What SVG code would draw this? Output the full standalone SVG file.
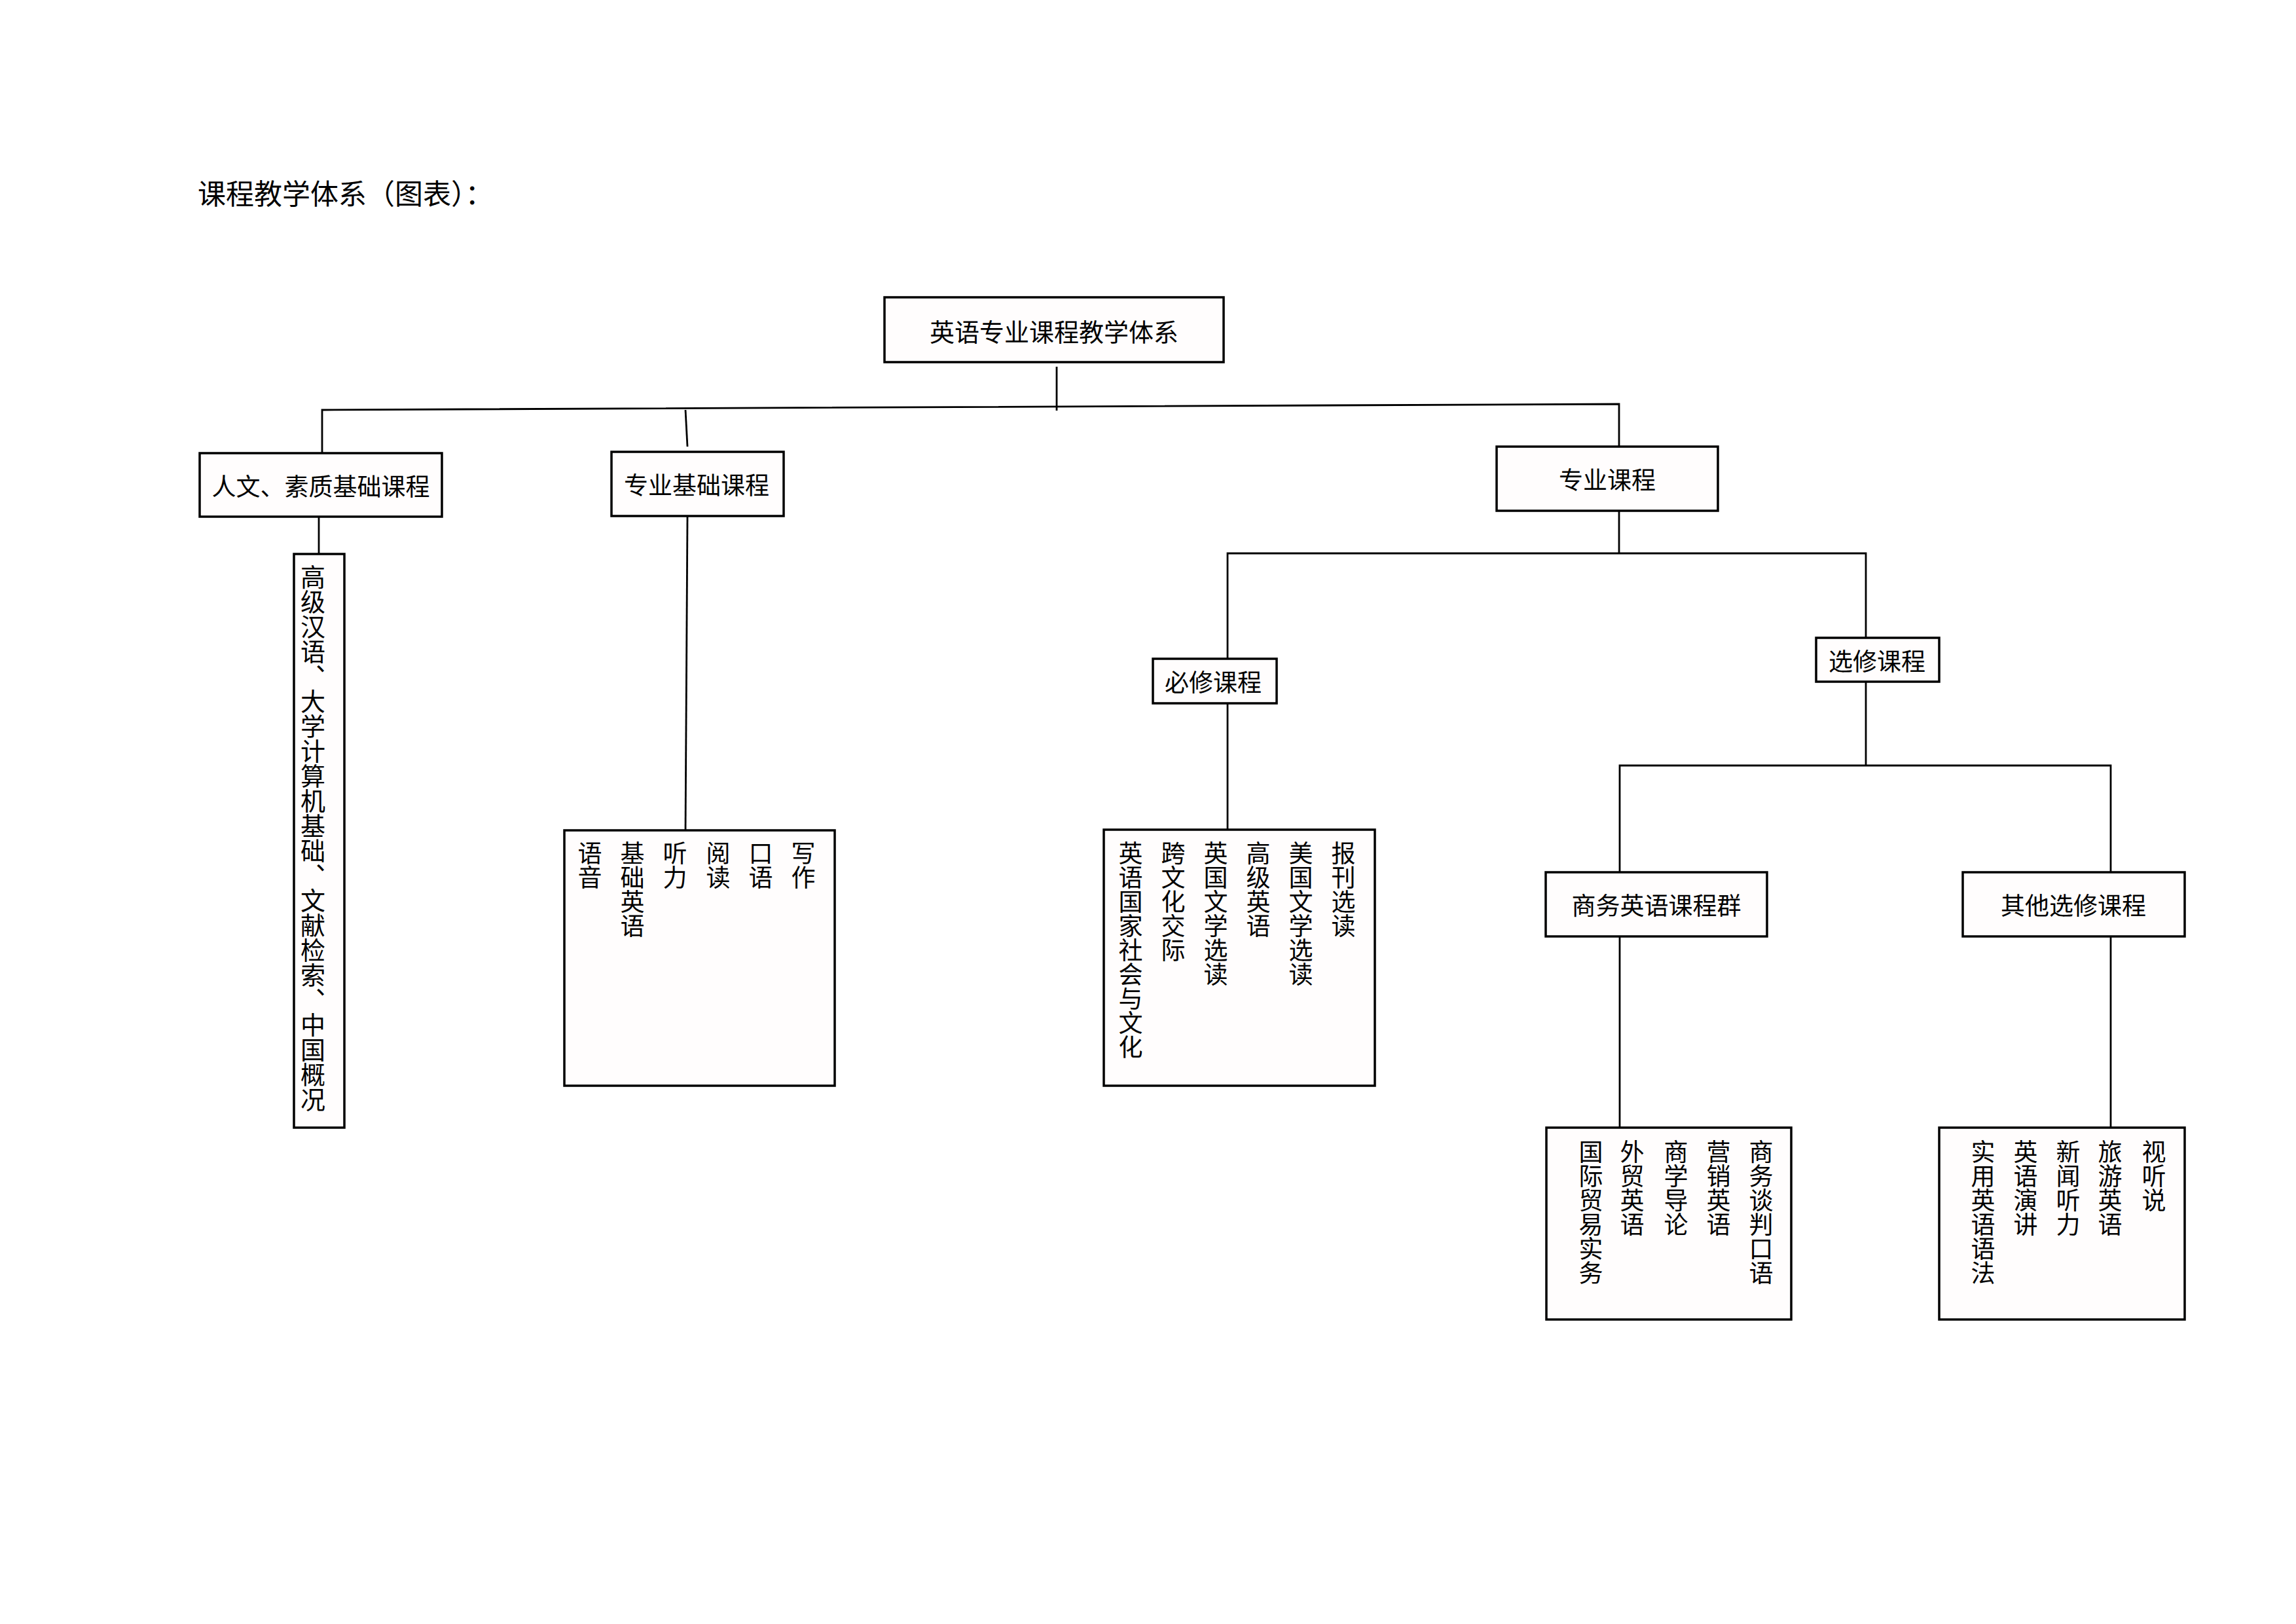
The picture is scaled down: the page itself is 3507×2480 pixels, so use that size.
<svg xmlns="http://www.w3.org/2000/svg" width="3507" height="2480" viewBox="0 0 3507 2480">
<style>
text{font-family:"Noto Sans CJK SC","Noto Sans CJK JP",sans-serif;fill:#000}
.lbl{font-size:37px;text-anchor:middle;dominant-baseline:central}
.col{font-size:37px;writing-mode:vertical-rl;text-anchor:start}
.box{fill:#fffdfd;stroke:#000;stroke-width:3.5}
.ln{fill:none;stroke:#000;stroke-width:2.8}
</style>
<rect width="3507" height="2480" fill="#fff"/>
<text x="302" y="293" style="font-size:43px;dominant-baseline:central">课程教学体系（图表）：</text>
<g id="connectors">
<path class="ln" d="M1614 560V627"/>
<path class="ln" d="M492 692V626L2473 617V682"/>
<path class="ln" d="M1047 626L1050 682"/>
<path class="ln" d="M487 789V846"/>
<path class="ln" d="M1050 788L1047 1268"/>
<path class="ln" d="M2473 780V845"/>
<path class="ln" d="M1875 1006V845H2850V974"/>
<path class="ln" d="M1875 1074V1267"/>
<path class="ln" d="M2850 1041V1169"/>
<path class="ln" d="M2474 1332V1169H3224V1332"/>
<path class="ln" d="M2474 1430V1722"/>
<path class="ln" d="M3224 1430V1722"/>
</g>
<g id="root">
<rect class="box" x="1351" y="454" width="518" height="99"/>
<text class="lbl" x="1610" y="504" style="font-size:38px">英语专业课程教学体系</text>
</g>
<g id="renwen">
<rect class="box" x="305" y="692" width="370" height="97"/>
<text class="lbl" x="490" y="741">人文、素质基础课程</text>
</g>
<g id="zhuanyejichu">
<rect class="box" x="934" y="690" width="263" height="98"/>
<text class="lbl" x="1064" y="739">专业基础课程</text>
</g>
<g id="zhuanye">
<rect class="box" x="2286" y="682" width="338" height="98"/>
<text class="lbl" x="2455" y="731">专业课程</text>
</g>
<g id="bixiu">
<rect class="box" x="1761" y="1006" width="189" height="68"/>
<text class="lbl" x="1853" y="1040">必修课程</text>
</g>
<g id="xuanxiu">
<rect class="box" x="2774" y="974" width="188" height="67"/>
<text class="lbl" x="2867" y="1008">选修课程</text>
</g>
<g id="shangwu">
<rect class="box" x="2361" y="1332" width="338" height="98"/>
<text class="lbl" x="2530" y="1381">商务英语课程群</text>
</g>
<g id="qita">
<rect class="box" x="2998" y="1332" width="339" height="98"/>
<text class="lbl" x="3167" y="1381">其他选修课程</text>
</g>
<g id="renwen-list">
<rect class="box" x="449" y="846" width="77" height="876"/>
<text class="col" x="478" y="862" style="font-size:38px">高级汉语、大学计算机基础、文献检索、中国概况</text>
</g>
<g id="jichu-list">
<rect class="box" x="862" y="1268" width="413" height="390"/>
<text class="col" x="901" y="1284">语音</text>
<text class="col" x="966" y="1284">基础英语</text>
<text class="col" x="1031" y="1284">听力</text>
<text class="col" x="1097" y="1284">阅读</text>
<text class="col" x="1162" y="1284">口语</text>
<text class="col" x="1227" y="1284">写作</text>
</g>
<g id="bixiu-list">
<rect class="box" x="1686" y="1267" width="414" height="391"/>
<text class="col" x="1727" y="1284">英语国家社会与文化</text>
<text class="col" x="1792" y="1284">跨文化交际</text>
<text class="col" x="1857" y="1284">英国文学选读</text>
<text class="col" x="1922" y="1284">高级英语</text>
<text class="col" x="1987" y="1284">美国文学选读</text>
<text class="col" x="2052" y="1284">报刊选读</text>
</g>
<g id="shangwu-list">
<rect class="box" x="2362" y="1722" width="374" height="293"/>
<text class="col" x="2430" y="1740">国际贸易实务</text>
<text class="col" x="2493" y="1740">外贸英语</text>
<text class="col" x="2560" y="1740">商学导论</text>
<text class="col" x="2625" y="1740">营销英语</text>
<text class="col" x="2690" y="1740">商务谈判口语</text>
</g>
<g id="qita-list">
<rect class="box" x="2962" y="1722" width="375" height="293"/>
<text class="col" x="3029" y="1740">实用英语语法</text>
<text class="col" x="3094" y="1740">英语演讲</text>
<text class="col" x="3159" y="1740">新闻听力</text>
<text class="col" x="3223" y="1740">旅游英语</text>
<text class="col" x="3290" y="1740">视听说</text>
</g>
</svg>
